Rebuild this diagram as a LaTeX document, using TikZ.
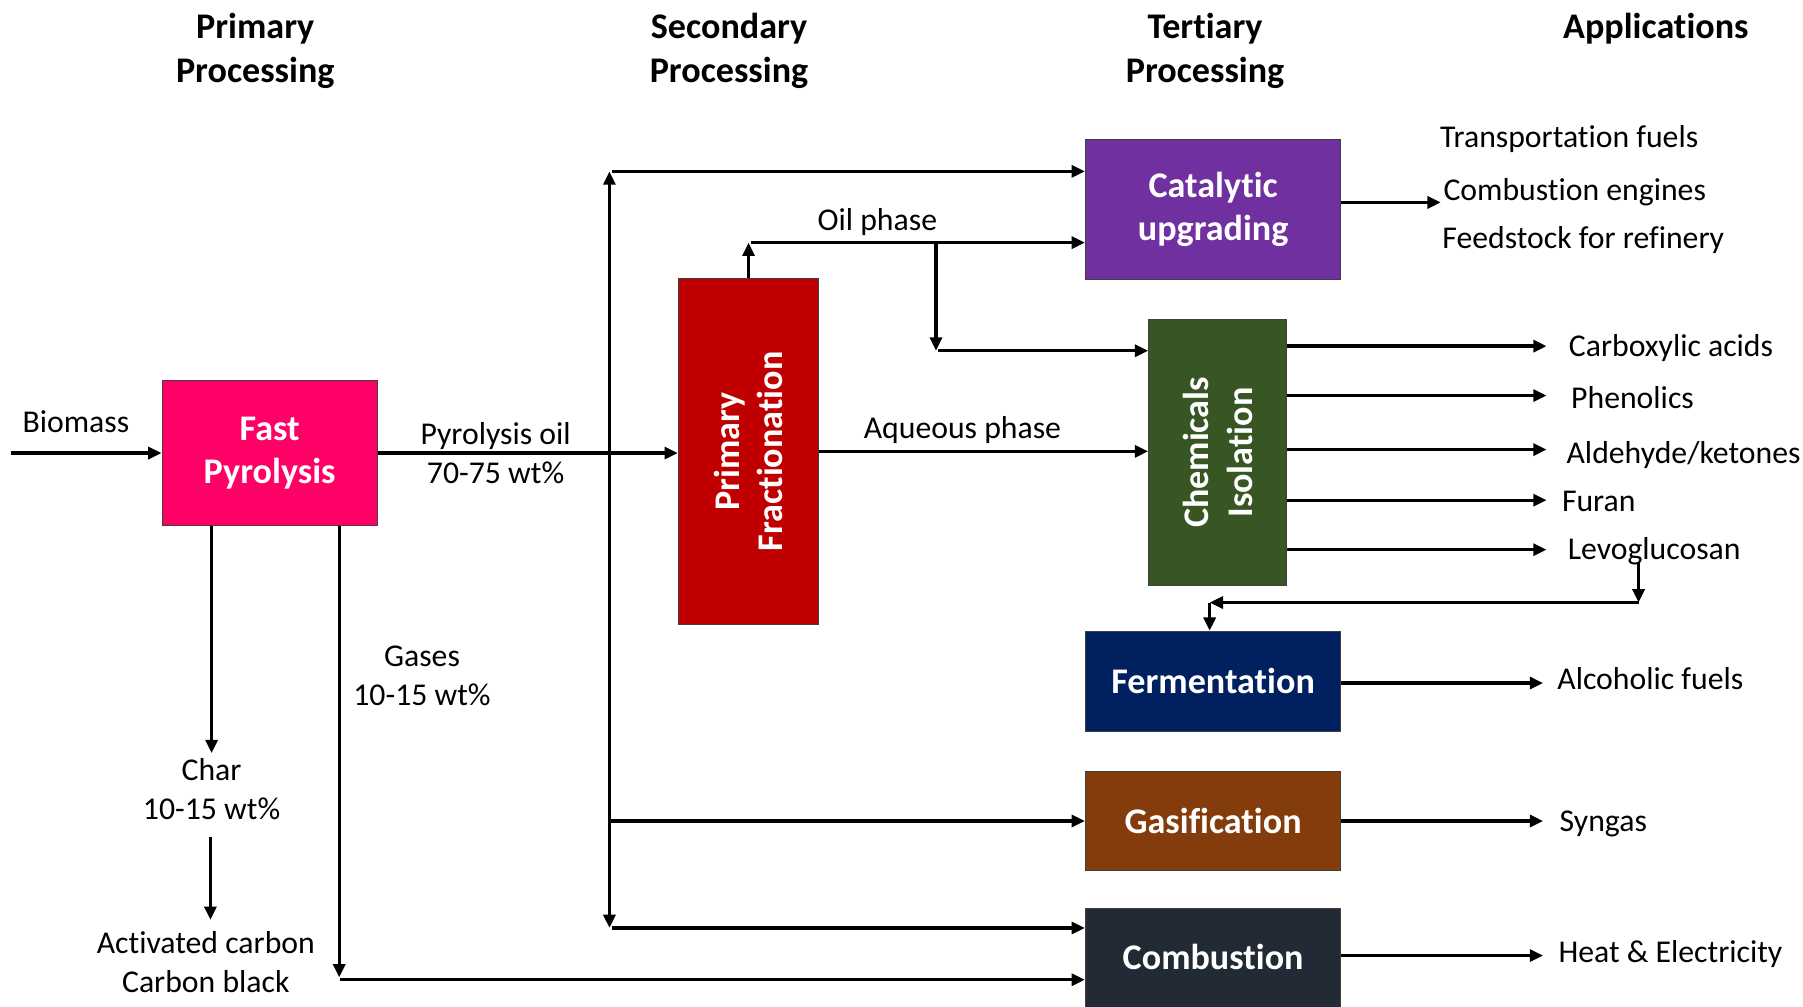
\documentclass[tikz,border=0pt]{standalone}
\usepackage{fontspec}
\setmainfont[Ligatures=NoCommon]{Carlito}
\usetikzlibrary{arrows.meta}
\definecolor{pyro}{HTML}{FF0066}
\definecolor{fract}{HTML}{C00000}
\definecolor{cata}{HTML}{7030A0}
\definecolor{chem}{HTML}{375623}
\definecolor{ferm}{HTML}{002060}
\definecolor{gasi}{HTML}{843C0C}
\definecolor{comb}{HTML}{222A35}
\newcommand{\lblfont}{\fontsize{13.8}{17}\selectfont}
\newcommand{\unitfont}{\fontsize{15.7}{19}\selectfont\bfseries}
\begin{document}
\begin{tikzpicture}[x=0.5pt,y=-0.5pt,
  flow/.style={line width=1.45pt,-{Triangle[length=5.8pt,width=5.2pt]}},
  unit/.style={draw=black!75,line width=0.5pt,inner sep=0pt,text=white,font=\unitfont,align=center},
  vtext/.style={inner sep=0pt,text=white,font=\unitfont,align=center,rotate=90},
  lbl/.style={inner sep=0pt,font=\lblfont,text height=0.64em,text depth=0pt,yshift=-1.5pt},
  head/.style={inner sep=0pt,font=\unitfont,align=center,yshift=-1pt}]
\clip (0,0) rectangle (1568,875);

% column headings
\node[head] (h1) at (222,42) {Primary\\Processing};
\node[head] (h2) at (634,42) {Secondary\\Processing};
\node[head] (h3) at (1048,42) {Tertiary\\Processing};
\node[head] (h4) at (1440,23) {Applications};

% process units
\node[unit,fill=pyro,minimum width=93.5pt,minimum height=63pt] (fp) at (234.5,394) {Fast\\Pyrolysis};
\node[unit,fill=fract,minimum width=61pt,minimum height=150.5pt] (pf) at (651,392.5) {};
\node[vtext] (pft) at (pf.center) {Primary\\Fractionation};
\node[unit,fill=cata,minimum width=111pt,minimum height=61pt] (cu) at (1055,182) {Catalytic\\upgrading};
\node[unit,fill=chem,minimum width=60pt,minimum height=115.5pt] (ci) at (1059,393.5) {};
\node[vtext] (cit) at (ci.center) {Chemicals\\Isolation};
\node[unit,fill=ferm,minimum width=111pt,minimum height=43.5pt] (fe) at (1055,592.5) {Fermentation};
\node[unit,fill=gasi,minimum width=111pt,minimum height=43pt] (ga) at (1055,714) {Gasification};
\node[unit,fill=comb,minimum width=111pt,minimum height=44pt] (co) at (1055,834) {\raisebox{1.5pt}{Combustion}};

% stream labels
\node[lbl] (bio) at (66,367) {Biomass};
\node[lbl] (po1) at (431,377) {Pyrolysis oil};
\node[lbl] (po2) at (431,411) {70-75 wt\%};
\node[lbl] (ch1) at (184,669) {Char};
\node[lbl] (ch2) at (184,703) {10-15 wt\%};
\node[lbl] (ac1) at (179,820) {Activated carbon};
\node[lbl] (ac2) at (179,854) {Carbon black};
\node[lbl] (gs1) at (367,570) {Gases};
\node[lbl] (gs2) at (367,604) {10-15 wt\%};
\node[lbl] (oil) at (763,191) {Oil phase};
\node[lbl] (aq) at (837,372) {Aqueous phase};

% products
\node[lbl,anchor=west] (tf) at (1252,119) {Transportation fuels};
\node[lbl,anchor=west] (ce) at (1255,165) {Combustion engines};
\node[lbl,anchor=west] (fr) at (1254,207) {Feedstock for refinery};
\node[lbl,anchor=west] (ca) at (1364,301) {Carboxylic acids};
\node[lbl,anchor=west] (ph) at (1366,346) {Phenolics};
\node[lbl,anchor=west] (al) at (1362,394) {Aldehyde/ketones};
\node[lbl,anchor=west] (fu) at (1358,435) {Furan};
\node[lbl,anchor=west] (le) at (1363,477) {Levoglucosan};
\node[lbl,anchor=west] (af) at (1354,590) {Alcoholic fuels};
\node[lbl,anchor=west] (sg) at (1356,714) {Syngas};
\node[lbl,anchor=west] (he) at (1355,828) {Heat \& Electricity};

% feed and pyrolysis oil
\coordinate (src) at (10,394);
\draw[flow] (src) -- (fp.west);
\draw[flow] (fp.east) -- (fp.east -| pf.west);

% bypass header for the pyrolysis oil
\coordinate (jn) at (530,394);
\coordinate (jt) at (530,149);
\coordinate (jb) at (530,807);
\draw[flow] (jn) -- (jt);
\draw[flow] ([xshift=1pt]jt) -- (jt -| cu.west);
\draw[flow] (jn) -- (jb);
\draw[flow] ([xshift=1pt]jb) -- (jb -| co.west);
\draw[flow] (jn |- ga.west) -- (ga.west);

% oil and aqueous phases
\coordinate (op) at (651,211);
\draw[flow] (pf.north) -- (op);
\draw[flow] ([xshift=1pt]op) -- (op -| cu.west);
\coordinate (ob) at (814,211);
\coordinate (od) at (814,305);
\draw[flow] (ob) -- (od);
\draw[flow] ([xshift=1pt]od) -- (od -| ci.west);
\draw[flow] (pf.east) -- (pf.east -| ci.west);

% upgrading products
\coordinate (cuo) at (1253,176);
\draw[flow] (cu.east |- cuo) -- (cuo);

% isolated chemicals
\foreach \yy in {301,344,391,435,478}
  \draw[flow] (ci.east |- 0,\yy) -- (1345,\yy);

% levoglucosan to fermentation
\coordinate (lv1) at (1425,490);
\coordinate (lv2) at (1425,524);
\coordinate (lv3) at (1052,524);
\draw[flow] (lv1) -- (lv2);
\draw[flow] (lv2) -- (lv3);
\draw[flow] (lv3) -- (lv3 |- fe.north);

% tertiary products
\coordinate (feo) at (1342,594);
\draw[flow] (fe.east |- feo) -- (feo);
\coordinate (gao) at (1342,714);
\draw[flow] (ga.east |- gao) -- (gao);
\coordinate (coo) at (1342,831);
\draw[flow] (co.east |- coo) -- (coo);

% char and gases
\coordinate (ch0) at (fp.south -| 184,0);
\coordinate (chT) at (184,655);
\draw[flow] (ch0) -- (chT);
\coordinate (ac0) at (183,728);
\coordinate (acT) at (183,800);
\draw[flow] (ac0) -- (acT);
\coordinate (gs0) at (fp.south -| 295,0);
\coordinate (gsT) at (295,850);
\draw[flow] (gs0) -- (gsT);
\coordinate (gsH) at (296,852);
\draw[flow] (gsH) -- (gsH -| co.west);
\end{tikzpicture}
\end{document}
